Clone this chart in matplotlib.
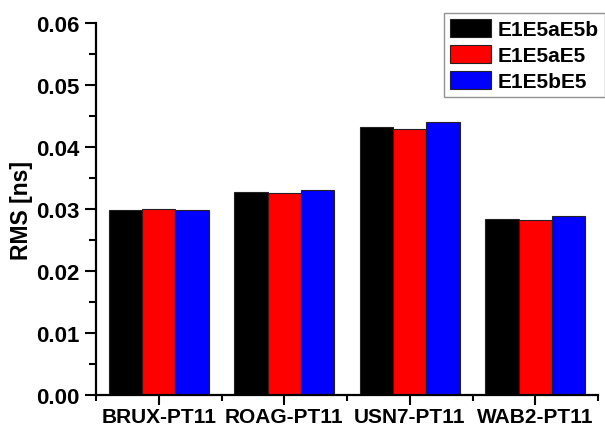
import numpy as np
import matplotlib
matplotlib.use("Agg")
import matplotlib.pyplot as plt
from matplotlib.ticker import MultipleLocator, FixedLocator

plt.rcParams['font.family'] = ['Liberation Sans', 'DejaVu Sans']
plt.rcParams['font.weight'] = 'bold'

stations = ["BRUX-PT11", "ROAG-PT11", "USN7-PT11", "WAB2-PT11"]
series_names = ["E1E5aE5b", "E1E5aE5", "E1E5bE5"]
rms_e1e5ae5b = [0.0299, 0.0327, 0.0432, 0.0284]
rms_e1e5ae5 = [0.02995, 0.0326, 0.0430, 0.0282]
rms_e1e5be5 = [0.02985, 0.0330, 0.0441, 0.0289]
series_colors = ["#000000", "#ff0000", "#0000ff"]

fig = plt.figure(figsize=(6.05, 4.27), dpi=100)
ax = fig.add_axes([96 / 605, 1 - 395.7 / 427, (598 - 96) / 605, (395.7 - 24.3) / 427])

x = np.arange(len(stations))
width = 0.8 / 3
for i, (vals, name, col) in enumerate(zip([rms_e1e5ae5b, rms_e1e5ae5, rms_e1e5be5],
                                          series_names, series_colors)):
    ax.bar(x + (i - 1) * width, vals, width, color=col, edgecolor="#222222",
           linewidth=0.8, label=name, zorder=2)

ax.set_xlim(-0.5, len(stations) - 0.5)
ax.set_ylim(0, 0.06)
ax.set_xticks(x)
ax.set_xticklabels(stations, fontsize=15, fontweight='bold')
ax.xaxis.set_minor_locator(FixedLocator(np.arange(-0.5, len(stations), 1.0)))
ax.yaxis.set_major_locator(MultipleLocator(0.01))
ax.yaxis.set_minor_locator(MultipleLocator(0.005))
ax.set_yticklabels([f"{v:.2f}" for v in ax.get_yticks()], fontsize=16, fontweight='bold')

for side in ("top", "right"):
    ax.spines[side].set_visible(False)
for side in ("left", "bottom"):
    ax.spines[side].set_linewidth(1.6)

ax.tick_params(axis='both', which='major', direction='out', length=8, width=1.5, pad=4)
ax.tick_params(axis='both', which='minor', direction='out', length=5, width=1.5)
ax.tick_params(axis='x', which='major', length=7, pad=2)
ax.tick_params(axis='x', which='minor', length=4.5)

ax.set_ylabel("RMS [ns]", fontsize=16.5, fontweight='bold', labelpad=2)

leg = ax.legend(loc='upper right', bbox_to_anchor=(604.5 / 605, 1 - 14 / 427),
                bbox_transform=fig.transFigure, fontsize=15, frameon=True,
                fancybox=False, edgecolor="#777777", handlelength=1.97,
                handleheight=0.98, handletextpad=0.3, labelspacing=0.27,
                borderpad=0.28, borderaxespad=0)
leg.get_frame().set_linewidth(1.0)
for t in leg.get_texts():
    t.set_fontweight('bold')

fig.savefig("out.png", dpi=100)
